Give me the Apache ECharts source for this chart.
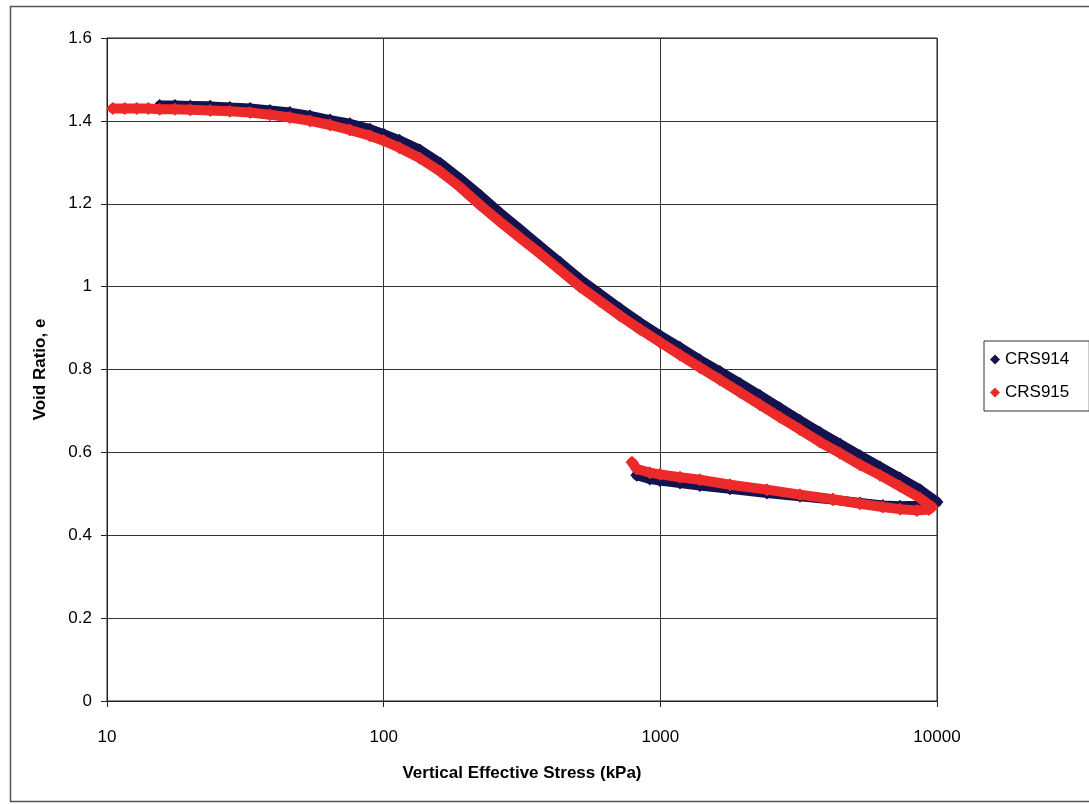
<!DOCTYPE html>
<html>
<head>
<meta charset="utf-8">
<script src="https://cdn.jsdelivr.net/npm/echarts@6/dist/echarts.min.js"></script>
<style>
html,body{margin:0;padding:0;background:#fff;}
#c{width:1089px;height:804px;}
</style>
</head>
<body>
<div id="c"></div>
<script>
// X tick labels (log axis)
const xTicks = [10, 100, 1000, 10000];
// Y tick labels
const yTicks = [0, 0.2, 0.4, 0.6, 0.8, 1, 1.2, 1.4, 1.6];

// CRS914: stress (kPa) and void ratio, loading then unloading
const crs914Stress = [15.5, 17.6, 20, 23.6, 27.8, 32.9, 38.8, 45.8, 54.2, 64, 75.5, 89.2, 100, 114, 135, 160, 189, 223, 263, 311, 367, 434, 512, 605, 714, 844, 997, 1178, 1390, 1642, 1940, 2290, 2705, 3196, 3775, 4460, 5265, 6220, 7345, 8675, 10000,
  9340, 8456, 7345, 6370, 5265, 4207, 3196, 2427, 1786, 1390, 1178, 997, 916, 822];
const crs914Void = [1.437, 1.437, 1.436, 1.435, 1.432, 1.430, 1.425, 1.420, 1.412, 1.402, 1.393, 1.380, 1.368, 1.353, 1.330, 1.298, 1.260, 1.220, 1.178, 1.138, 1.098, 1.058, 1.018, 0.982, 0.947, 0.913, 0.882, 0.853, 0.823, 0.795, 0.766, 0.737, 0.707, 0.677, 0.648, 0.620, 0.592, 0.565, 0.538, 0.510, 0.480,
  0.474, 0.471, 0.470, 0.472, 0.478, 0.486, 0.494, 0.502, 0.512, 0.520, 0.526, 0.532, 0.536, 0.545];

// CRS915: stress (kPa) and void ratio, loading then unloading
const crs915Stress = [10.5, 11.6, 12.8, 14.1, 15.5, 17.6, 20, 23.6, 27.8, 32.9, 38.8, 45.8, 54.2, 64, 75.5, 89.2, 100, 114, 135, 160, 189, 223, 263, 311, 367, 434, 512, 605, 714, 844, 997, 1178, 1390, 1642, 1940, 2290, 2705, 3196, 3775, 4460, 5265, 6220, 7345, 8675, 9600,
  9340, 8456, 7345, 6370, 5265, 4207, 3196, 2427, 1786, 1390, 1178, 997, 916, 822, 790];
const crs915Void = [1.430, 1.430, 1.430, 1.430, 1.428, 1.428, 1.427, 1.425, 1.423, 1.420, 1.415, 1.408, 1.400, 1.390, 1.378, 1.364, 1.352, 1.335, 1.310, 1.278, 1.240, 1.197, 1.157, 1.118, 1.080, 1.040, 1.000, 0.965, 0.930, 0.897, 0.866, 0.835, 0.805, 0.775, 0.745, 0.715, 0.685, 0.655, 0.625, 0.598, 0.570, 0.545, 0.518, 0.490, 0.468,
  0.462, 0.460, 0.463, 0.468, 0.476, 0.487, 0.498, 0.510, 0.522, 0.534, 0.540, 0.547, 0.551, 0.560, 0.576];

const seriesNames = ['CRS914', 'CRS915'];
const colors = ['#13134f', '#ec2a2a'];

function pairs(xs, ys) { return xs.map((x, i) => [x, ys[i]]); }

const chart = echarts.init(document.getElementById('c'), null, {renderer: 'canvas'});
const font = '"Liberation Sans", Arial, sans-serif';

chart.setOption({
  animation: false,
  backgroundColor: '#fff',
  textStyle: {fontFamily: font},
  graphic: [{
    type: 'rect', left: 8, top: 4, silent: true,
    shape: {width: 1100, height: 795},
    style: {fill: 'none', stroke: '#555', lineWidth: 1.5}
  }],
  grid: {left: 107, right: 152, top: 38, bottom: 103, show: true, borderColor: '#222', borderWidth: 1},
  legend: {
    orient: 'vertical', left: 984, top: 341,
    data: seriesNames.map(n => ({name: n, icon: 'diamond'})),
    itemWidth: 10, itemHeight: 10, itemGap: 16,
    padding: [10, 20, 10, 6],
    borderColor: '#333', borderWidth: 1,
    textStyle: {fontSize: 17, color: '#000', fontFamily: font}
  },
  xAxis: {
    type: 'log', logBase: 10, min: xTicks[0], max: xTicks[xTicks.length - 1],
    name: 'Vertical Effective Stress (kPa)', nameLocation: 'middle', nameGap: 64,
    nameTextStyle: {fontSize: 17, fontWeight: 'bold', color: '#000', fontFamily: font},
    axisLine: {show: true, lineStyle: {color: '#222'}},
    axisTick: {show: true, length: 6, lineStyle: {color: '#222'}},
    axisLabel: {fontSize: 17, color: '#000', margin: 28, fontFamily: font, formatter: v => String(Math.round(v))},
    splitLine: {show: true, lineStyle: {color: '#333', width: 1}},
    minorTick: {show: false}
  },
  yAxis: {
    type: 'value', min: yTicks[0], max: yTicks[yTicks.length - 1], interval: 0.2,
    name: 'Void Ratio, e', nameLocation: 'middle', nameGap: 58, nameRotate: 90,
    nameTextStyle: {fontSize: 17, fontWeight: 'bold', color: '#000', fontFamily: font},
    axisLine: {show: true, lineStyle: {color: '#222'}},
    axisTick: {show: true, length: 6, lineStyle: {color: '#222'}},
    axisLabel: {fontSize: 17, color: '#000', margin: 15, fontFamily: font},
    splitLine: {show: true, lineStyle: {color: '#333', width: 1}}
  },
  series: [
    {
      name: seriesNames[0], type: 'line', data: pairs(crs914Stress, crs914Void),
      symbol: 'diamond', symbolSize: 13, showAllSymbol: true,
      itemStyle: {color: colors[0]},
      lineStyle: {color: colors[0], width: 10, join: 'round', cap: 'round'},
      z: 2
    },
    {
      name: seriesNames[1], type: 'line', data: pairs(crs915Stress, crs915Void),
      symbol: 'diamond', symbolSize: 13, showAllSymbol: true,
      itemStyle: {color: colors[1]},
      lineStyle: {color: colors[1], width: 10, join: 'round', cap: 'round'},
      z: 3
    }
  ]
});
</script>
</body>
</html>
